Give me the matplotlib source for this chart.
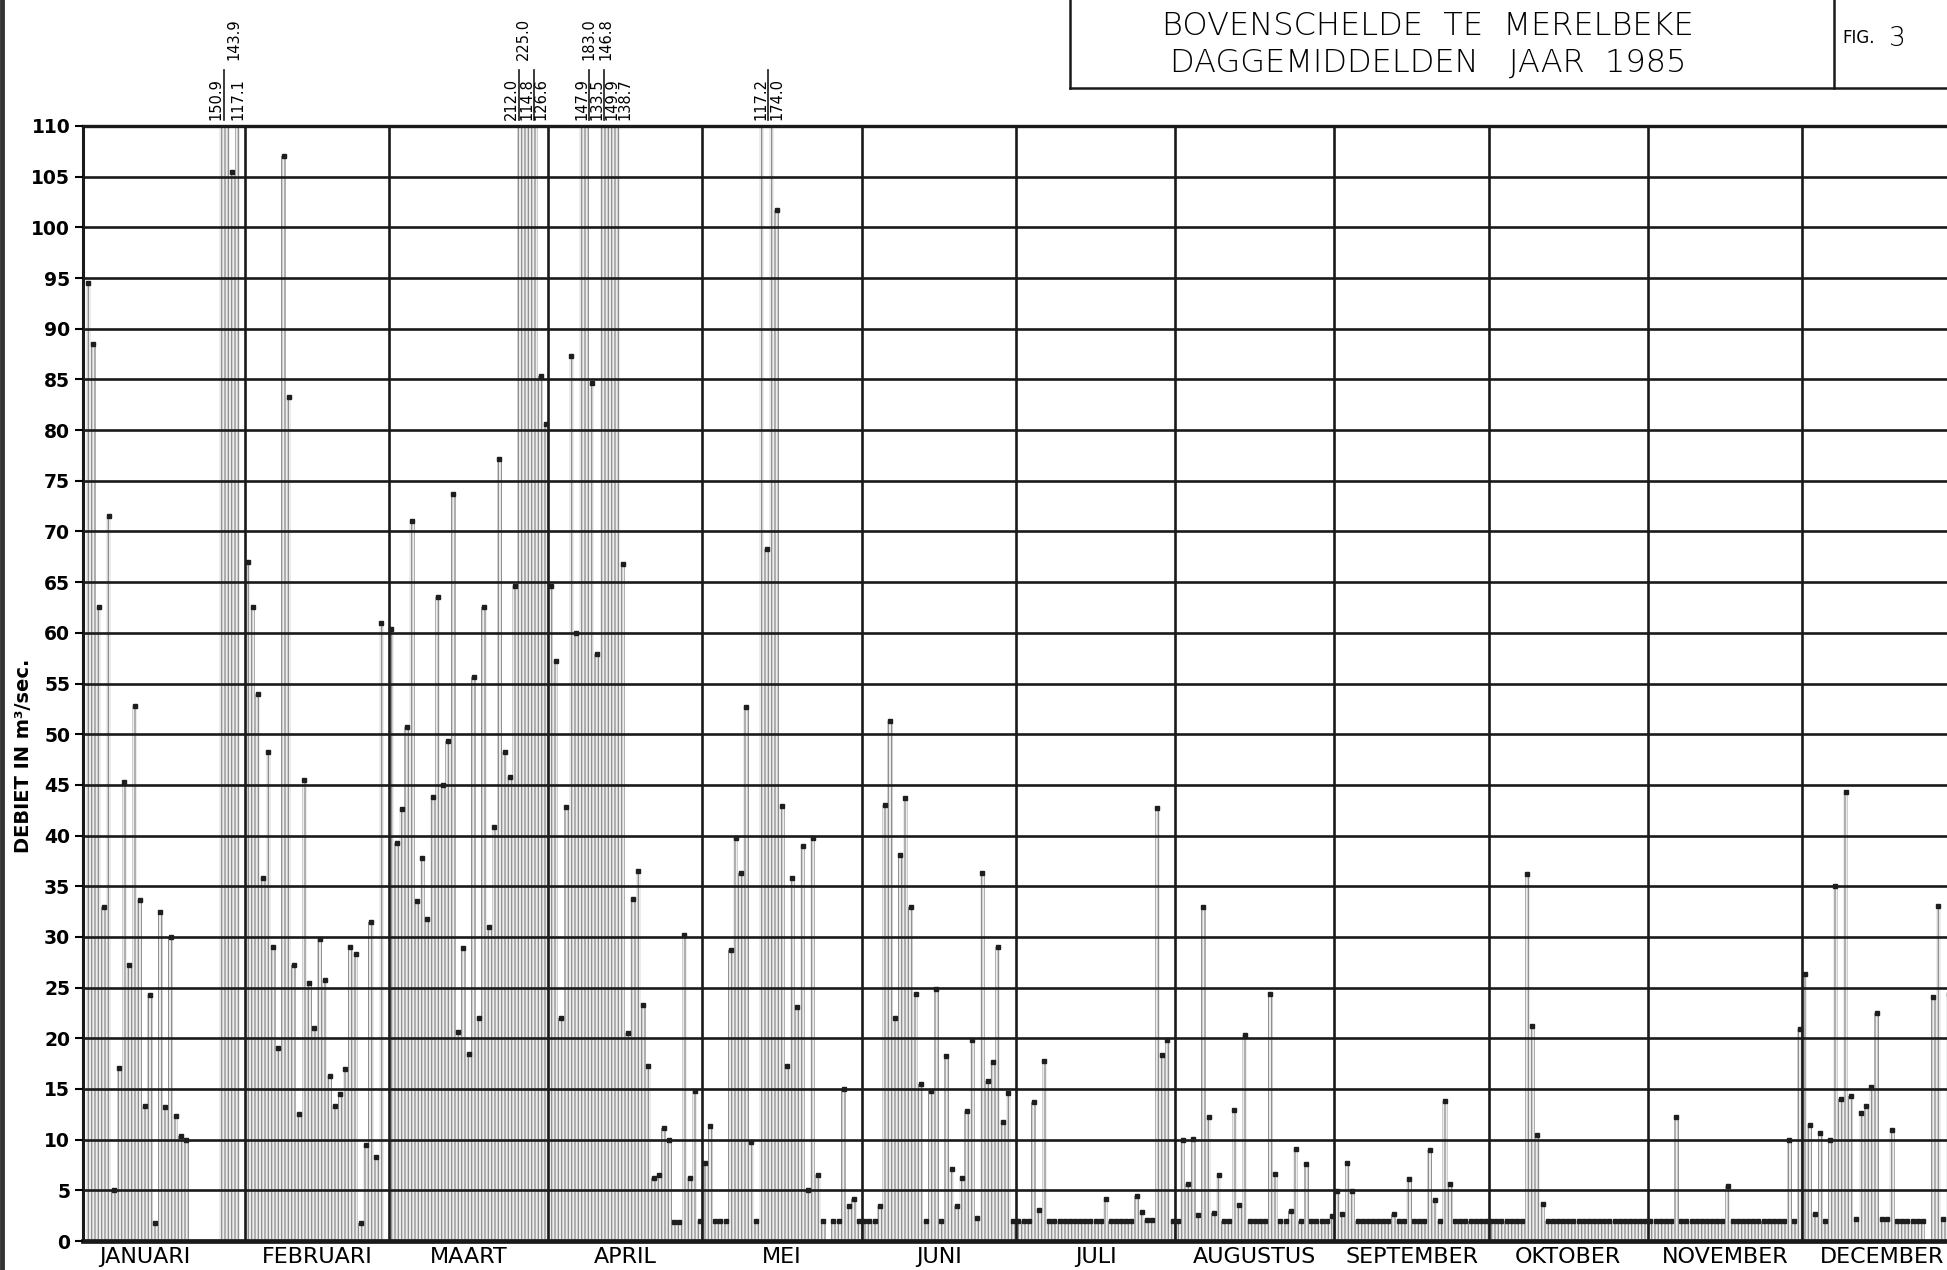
import numpy as np
import matplotlib.pyplot as plt
from matplotlib.lines import Line2D
from matplotlib.transforms import blended_transform_factory

nan = np.nan

# dagwaarden (m3/sec), per maand; nan = geen waarde getekend
months = ['JANUARI', 'FEBRUARI', 'MAART', 'APRIL', 'MEI', 'JUNI', 'JULI',
          'AUGUSTUS', 'SEPTEMBER', 'OKTOBER', 'NOVEMBER', 'DECEMBER']
days_in_month = [31, 28, 31, 30, 31, 30, 31, 31, 30, 31, 30, 31]

jan = [94.5, 88.5, 62.5, 33.0, 71.5, 5.0, 17.1, 45.3, 27.2, 52.8, 33.6, 13.3, 24.3, 1.8, 32.5,
       13.2, 30.0, 12.3, 10.4, 10.0, nan, nan, nan, nan, nan, nan, 150.9, 143.9, 105.5, 117.1, nan]
feb = [67.0, 62.5, 54.0, 35.8, 48.2, 29.0, 19.0, 107.0, 83.3, 27.2, 12.5, 45.5, 25.5, 21.0,
       29.8, 25.8, 16.3, 13.3, 14.5, 17.0, 29.0, 28.3, 1.8, 9.5, 31.5, 8.3, 61.0, nan]
mar = [60.4, 39.3, 42.6, 50.7, 71.0, 33.5, 37.8, 31.8, 43.8, 63.5, 45.0, 49.3, 73.7, 20.6, 28.9,
       18.5, 55.6, 22.0, 62.5, 31.0, 40.8, 77.1, 48.2, 45.8, 64.6, 212.0, 225.0, 114.8, 126.6, 85.3, 80.6]
apr = [64.6, 57.2, 22.0, 42.8, 87.3, 60.0, 147.9, 183.0, 84.6, 57.9, 133.5, 146.8, 149.9, 138.7, 66.8,
       20.5, 33.7, 36.5, 23.3, 17.3, 6.2, 6.5, 11.2, 10.0, 1.9, 1.9, 30.2, 6.2, 14.8, 2.0]
may = [7.7, 11.3, 2.0, 2.0, 2.0, 28.7, 39.8, 36.3, 52.7, 9.8, 2.0, 117.2, 68.3, 174.0, 101.7, 42.9,
       17.3, 35.8, 23.1, 39.0, 5.0, 39.8, 6.5, 2.0, nan, 2.0, 2.0, 15.0, 3.5, 4.1, 2.0]
jun = [2.0, 2.0, 2.0, 3.5, 43.0, 51.3, 22.0, 38.1, 43.7, 33.0, 24.4, 15.5, 2.0, 14.8, 24.9,
       2.0, 18.3, 7.1, 3.5, 6.2, 12.8, 19.8, 2.3, 36.3, 15.8, 17.7, 29.0, 11.7, 14.6, 2.0]
jul = [2.0, 2.0, 2.0, 13.7, 3.1, 17.8, 2.0, 2.0, 2.0, 2.0, 2.0, 2.0, 2.0, 2.0, 2.0, 2.0,
       2.0, 4.1, 2.0, 2.0, 2.0, 2.0, 2.0, 4.4, 2.9, 2.1, 2.1, 42.7, 18.4, 19.8, 2.0]
aug = [2.0, 10.0, 5.6, 10.1, 2.6, 33.0, 12.2, 2.8, 6.5, 2.0, 2.0, 12.9, 3.6, 20.3, 2.0, 2.0,
       2.0, 2.0, 24.4, 6.6, 2.0, 2.0, 3.0, 9.1, 2.0, 7.6, 2.0, 2.0, 2.0, 2.0, 2.5]
sep = [4.9, 2.7, 7.7, 4.9, 2.0, 2.0, 2.0, 2.0, 2.0, 2.0, 2.0, 2.7, 2.0, 2.0, 6.1,
       2.0, 2.0, 2.0, 9.0, 4.0, 2.0, 13.8, 5.6, 2.0, 2.0, 2.0, 2.0, 2.0, 2.0, 2.0]
okt = [2.0, 2.0, 2.0, 2.0, 2.0, 2.0, 2.0, 36.2, 21.2, 10.5, 3.7, 2.0, 2.0, 2.0, 2.0, 2.0,
       2.0, 2.0, 2.0, 2.0, 2.0, 2.0, 2.0, 2.0, 2.0, 2.0, 2.0, 2.0, 2.0, 2.0, 2.0]
nov = [2.0, 2.0, 2.0, 2.0, 2.0, 12.2, 2.0, 2.0, 2.0, 2.0, 2.0, 2.0, 2.0, 2.0, 2.0,
       5.4, 2.0, 2.0, 2.0, 2.0, 2.0, 2.0, 2.0, 2.0, 2.0, 2.0, 2.0, 10.0, 2.0, 20.9]
dec = [26.3, 11.4, 2.7, 10.7, 2.0, 10.0, 35.0, 14.0, 44.3, 14.3, 2.2, 12.6, 13.3, 15.2, 22.5, 2.2,
       2.2, 11.0, 2.0, 2.0, 2.0, 2.0, 2.0, 2.0, nan, 24.1, 33.1, 2.2, 24.4, nan, nan]

# waarden boven 110 die bovenaan vermeld staan: tekst, dag-positie, rij, onderstreept
top_labels = [('150.9', 25.4, 0, True), ('143.9', 28.9, 1, False), ('117.1', 29.6, 0, False),
              ('212.0', 82.9, 0, True), ('225.0', 85.2, 1, False), ('114.8', 85.8, 0, True),
              ('126.6', 88.6, 0, False),
              ('147.9', 96.5, 0, True), ('183.0', 97.9, 1, False), ('133.5', 99.4, 0, True),
              ('146.8', 101.2, 1, False), ('149.9', 102.4, 0, False), ('138.7', 104.9, 0, False),
              ('117.2', 131.3, 0, True), ('174.0', 134.5, 0, False)]

values = np.array(jan + feb + mar + apr + may + jun + jul + aug + sep + okt + nov + dec, dtype=float)
x = np.arange(len(values)) + 0.5
starts = np.cumsum([0] + days_in_month)
mids = (starts[:-1] + starts[1:]) / 2
mids[0] -= 4   # januari-label staat wat links

plt.rcParams['hatch.linewidth'] = 0.9
fig = plt.figure(figsize=(19.47, 12.70), dpi=100)
ax = fig.add_axes([0.0425, 0.0228, 0.9575, 0.878])

ok = ~np.isnan(values)
ax.bar(x[ok], values[ok], width=1.0, color='#ececec', edgecolor='#8c8c8c',
       hatch='|||||', linewidth=0, zorder=1)
top = ok & (values <= 110)
ax.plot(x[top], values[top], 's', ms=2.6, color='#1e1e1e', zorder=4)

ax.set_xlim(-0.58, 362.2)
ax.set_ylim(0, 110)
ax.set_yticks(range(0, 111, 5))
ax.yaxis.grid(True, color='#1a1a1a', lw=1.9)
ax.set_axisbelow(False)
for s in starts[1:12]:
    ax.axvline(s, color='#1a1a1a', lw=1.9, zorder=3)

ax.spines['right'].set_visible(False)
ax.spines['left'].set_linewidth(2.2)
ax.spines['top'].set_linewidth(2.4)
ax.spines['bottom'].set_linewidth(3.4)
for sp in ax.spines.values():
    sp.set_color('#1a1a1a')

ax.set_xticks(mids, months)
ax.tick_params(axis='x', length=0, pad=4, labelsize=16)
ax.tick_params(axis='y', length=6, width=1.5, pad=3, labelsize=13.5)
for lab in ax.get_yticklabels():
    lab.set_fontweight('bold')

fig.text(0.012, 0.405, 'DEBIET IN m³/sec.', rotation=90, ha='center', va='center',
         fontsize=14, fontweight='bold')

# waarden buiten de schaal
tr = blended_transform_factory(ax.transData, ax.transAxes)
for txt, xd, row, ul in top_labels:
    y0 = 1.005 + row * 0.054
    ax.text(xd, y0, txt, rotation=90, ha='center', va='bottom', fontsize=10.5,
            transform=tr, clip_on=False)
    if ul:
        ax.plot([xd + 1.5, xd + 1.5], [y0, y0 + 0.045], color='#1a1a1a', lw=1.2,
                transform=tr, clip_on=False)

# titelkader
lc = '#1a1a1a'
fig.add_artist(Line2D([0.5496, 0.5496], [0.9307, 1.0], color=lc, lw=1.8))
fig.add_artist(Line2D([0.5496, 1.0], [0.9307, 0.9307], color=lc, lw=1.8))
fig.add_artist(Line2D([0.942, 0.942], [0.9307, 1.0], color=lc, lw=1.8))
fig.add_artist(Line2D([0.0012, 0.0012], [0.0, 1.0], color='#333333', lw=3.5))
fig.text(0.7335, 0.9795, 'BOVENSCHELDE  TE  MERELBEKE', ha='center', va='center',
         fontsize=23, fontweight='light')
fig.text(0.7335, 0.950, 'DAGGEMIDDELDEN   JAAR  1985', ha='center', va='center',
         fontsize=23, fontweight='light')
fig.text(0.9545, 0.9697, 'FIG.', ha='center', va='center', fontsize=12)
fig.text(0.9745, 0.9697, '3', ha='center', va='center', fontsize=19, fontweight='light')

fig.savefig('out.png', dpi=100)
